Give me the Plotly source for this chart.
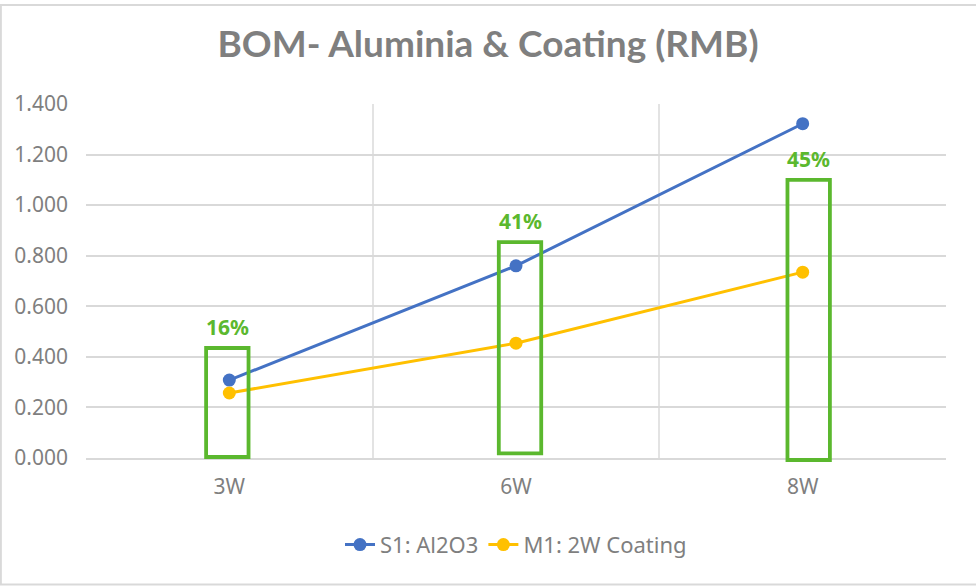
import plotly.graph_objects as go

categories = ["3W", "6W", "8W"]
s1_values = [0.308, 0.760, 1.322]
m1_values = [0.257, 0.454, 0.735]
pct_labels = ["16%", "41%", "45%"]
y_ticks = [0, 0.2, 0.4, 0.6, 0.8, 1.0, 1.2, 1.4]
Y_RANGE = [0, 1.4]

BLUE = "#4472C4"
ORANGE = "#FFC000"
GREEN = "#5BB82E"
GRAY = "#7F7F7F"
GRID = "#D9D9D9"
FONT = "Noto Sans"

fig = go.Figure()
fig.add_trace(go.Scatter(x=categories, y=s1_values, name="S1: Al2O3", mode="lines+markers",
                         line=dict(color=BLUE, width=3), marker=dict(size=13, color=BLUE)))
fig.add_trace(go.Scatter(x=categories, y=m1_values, name="M1: 2W Coating", mode="lines+markers",
                         line=dict(color=ORANGE, width=3), marker=dict(size=13, color=ORANGE)))


def to_paper(v):
    return (v - Y_RANGE[0]) / (Y_RANGE[1] - Y_RANGE[0])


# hand-drawn highlight boxes (x offset, bottom, top) per category
box_geom = [(-0.007, 0.004, 0.435), (0.014, 0.018, 0.854), (0.021, -0.008, 1.100)]
half_w = 0.074
for i, ((dx, y0, y1), lab) in enumerate(zip(box_geom, pct_labels)):
    fig.add_shape(type="rect", xref="x", yref="paper", x0=i + dx - half_w, x1=i + dx + half_w,
                  y0=to_paper(y0), y1=to_paper(y1), line=dict(color=GREEN, width=3.8),
                  fillcolor="rgba(0,0,0,0)")
    fig.add_annotation(x=i + dx, y=y1, xref="x", yref="y", text="<b>" + lab + "</b>", showarrow=False,
                       yshift=21, font=dict(family=FONT, size=21, color=GREEN))

# chart outer border
fig.add_shape(type="rect", xref="paper", yref="paper", x0=-0.099, x1=1.04, y0=-0.357, y1=1.28,
              line=dict(color="#D9D9D9", width=2), layer="below")

fig.update_layout(
    width=976, height=588,
    margin=dict(l=86, r=30, t=104, b=130),
    paper_bgcolor="white", plot_bgcolor="white",
    title=dict(text="<b>BOM- Aluminia & Coating (RMB)</b>", x=0.5, xanchor="center", y=0.925, yanchor="middle",
               font=dict(family="Lato", size=37, color=GRAY)),
    font=dict(family=FONT, color=GRAY),
    showlegend=True,
    legend=dict(orientation="h", x=0.5, xanchor="center", y=-0.245, yanchor="middle",
                font=dict(family=FONT, size=22, color=GRAY)),
    xaxis=dict(type="category", tickson="boundaries", showgrid=True, gridcolor="#E3E3E3", gridwidth=1.5,
               showline=True, linecolor=GRID, linewidth=2, ticks="", range=[-0.5, 2.5],
               ticklabelstandoff=9,
               tickfont=dict(family=FONT, size=21, color=GRAY)),
    yaxis=dict(range=Y_RANGE, tickvals=y_ticks, tickformat=".3f", showgrid=True, gridcolor=GRID,
               gridwidth=1.5, zeroline=False, ticks="", ticklabelstandoff=17,
               tickfont=dict(family=FONT, size=21, color=GRAY)),
)

fig.write_html("out.html")
